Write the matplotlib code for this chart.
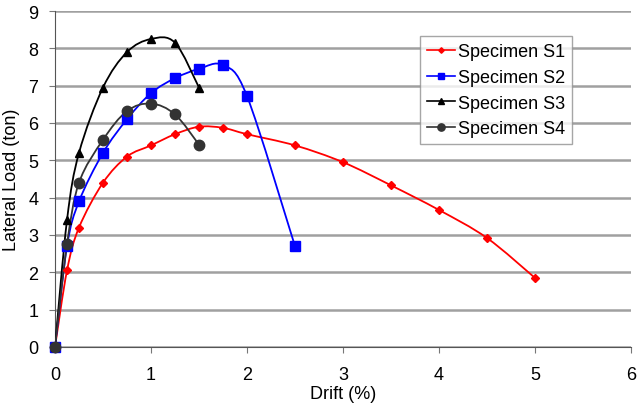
import matplotlib
matplotlib.use("Agg")
import matplotlib.pyplot as plt
from matplotlib.path import Path
from matplotlib.patches import PathPatch
from matplotlib.lines import Line2D

plt.rcParams['font.family'] = ['Liberation Sans', 'DejaVu Sans']

# drift (%) and lateral load (ton) for each specimen
s1_x = [0, 0.125, 0.25, 0.5, 0.75, 1.0, 1.25, 1.5, 1.75, 2.0, 2.5, 3.0, 3.5, 4.0, 4.5, 5.0]
s1_y = [0, 2.05, 3.2, 4.4, 5.1, 5.4, 5.7, 5.9, 5.87, 5.7, 5.4, 4.95, 4.33, 3.67, 2.92, 1.85]
s2_x = [0, 0.125, 0.25, 0.5, 0.75, 1.0, 1.25, 1.5, 1.75, 2.0, 2.5]
s2_y = [0, 2.7, 3.9, 5.2, 6.1, 6.8, 7.2, 7.45, 7.55, 6.72, 2.7]
s3_x = [0, 0.125, 0.25, 0.5, 0.75, 1.0, 1.25, 1.5]
s3_y = [0, 3.4, 5.2, 6.95, 7.9, 8.25, 8.15, 6.95]
s4_x = [0, 0.125, 0.25, 0.5, 0.75, 1.0, 1.25, 1.5]
s4_y = [0, 2.75, 4.4, 5.55, 6.32, 6.52, 6.23, 5.42]

names = ['Specimen S1', 'Specimen S2', 'Specimen S3', 'Specimen S4']


def smooth_path(xs, ys):
    # Excel-like smoothed line: cubic bezier segments through the points
    pts = list(zip(xs, ys))
    verts = [pts[0]]
    codes = [Path.MOVETO]
    n = len(pts)
    for i in range(n - 1):
        p0 = pts[i - 1] if i > 0 else pts[i]
        p1 = pts[i]
        p2 = pts[i + 1]
        p3 = pts[i + 2] if i + 2 < n else pts[i + 1]
        c1 = (p1[0] + (p2[0] - p0[0]) / 6, p1[1] + (p2[1] - p0[1]) / 6)
        c2 = (p2[0] - (p3[0] - p1[0]) / 6, p2[1] - (p3[1] - p1[1]) / 6)
        verts += [c1, c2, p2]
        codes += [Path.CURVE4] * 3
    return Path(verts, codes)


fig = plt.figure(figsize=(6.41, 4.06), dpi=100)
ax = fig.add_axes([55 / 641, 58 / 406, 576 / 641, 336 / 406])

series = [
    (s1_x, s1_y, 'red', 'D', 4),
    (s2_x, s2_y, 'blue', 's', 6.5),
    (s3_x, s3_y, 'black', '^', 5.5),
    (s4_x, s4_y, '#333333', 'o', 7.5),
]

handles = []
for (xs, ys, col, mk, ms), name in zip(series, names):
    ax.add_patch(PathPatch(smooth_path(xs, ys), fill=False, edgecolor=col, lw=1.3, zorder=3))
    ax.plot(xs, ys, ls='none', marker=mk, ms=ms, color=col, zorder=4, clip_on=False)
    handles.append(Line2D([], [], color=col, marker=mk, ms=ms * 0.7, lw=1.2, label=name))

ax.set_xlim(0, 6)
ax.set_ylim(0, 9)
ax.set_xticks(range(0, 7))
ax.set_yticks(range(0, 10))
ax.yaxis.grid(True, color='#a0a0a0', lw=1.8)
ax.set_axisbelow(True)
for s in ['top', 'right']:
    ax.spines[s].set_visible(False)
ax.spines['left'].set_color('#555555')
ax.spines['bottom'].set_color('#555555')
ax.tick_params(direction='out', length=4, labelsize=13, colors='#777777', labelcolor='black')
ax.tick_params(axis='x', pad=10)
ax.tick_params(axis='y', pad=8)

ax.set_xlabel('Drift (%)', fontsize=13, labelpad=1)
ax.set_ylabel('Lateral Load (ton)', fontsize=13, labelpad=6)

leg = ax.legend(handles=handles, loc='upper left', bbox_to_anchor=(365 / 576, 311 / 336),
                fontsize=13, frameon=True, fancybox=False, handlelength=1.55,
                handletextpad=0.15, labelspacing=0.48, borderpad=0.4, borderaxespad=0)
leg.get_frame().set_edgecolor('#909090')
leg.get_frame().set_linewidth(1.0)

fig.savefig('out.png', dpi=100)
